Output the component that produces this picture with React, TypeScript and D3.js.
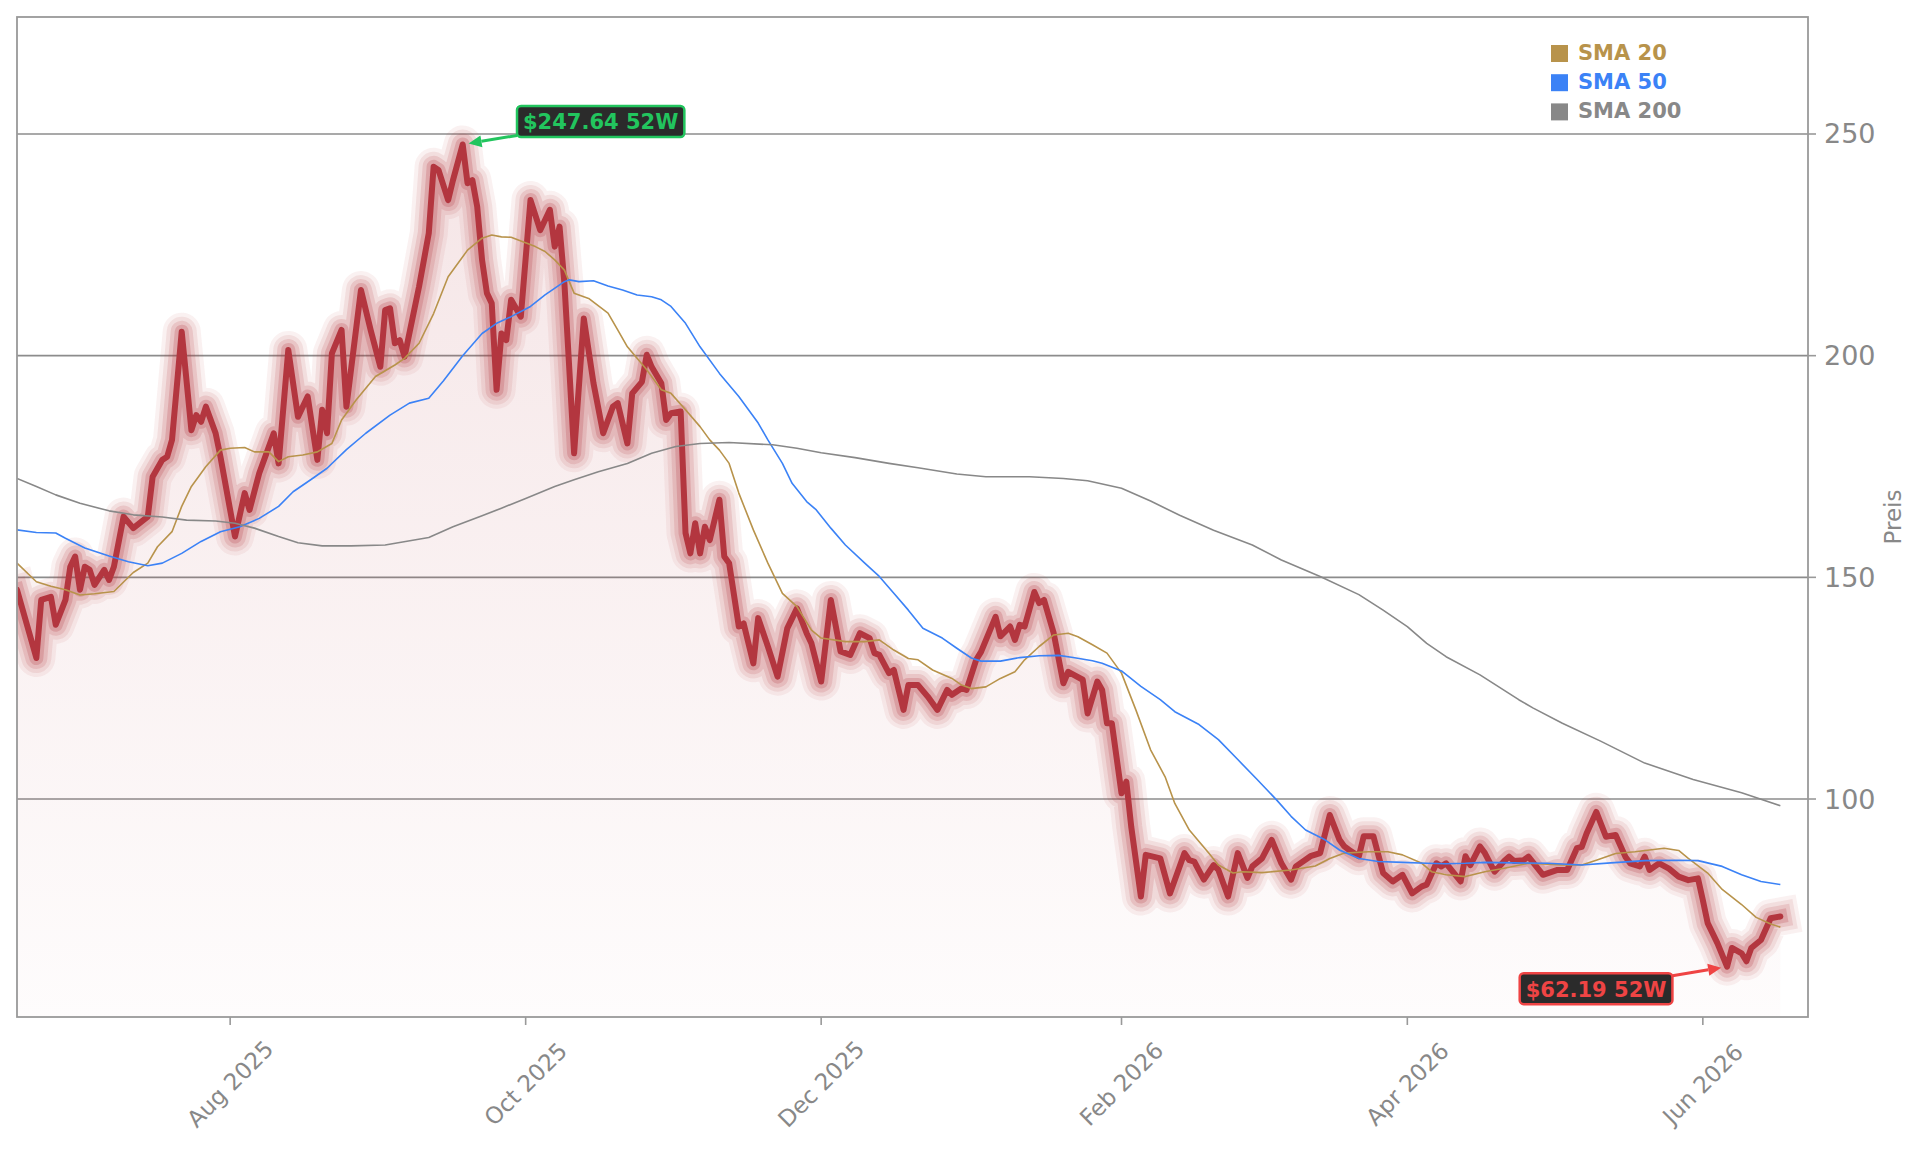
import React from 'react';
import * as d3 from 'd3';

// --- data ---
const priceDates = [
  '2025-06-18','2025-06-22','2025-06-23','2025-06-25','2025-06-26','2025-06-28','2025-06-29','2025-06-30','2025-07-01','2025-07-02',
  '2025-07-03','2025-07-04','2025-07-06','2025-07-07','2025-07-08','2025-07-10','2025-07-12','2025-07-15','2025-07-16','2025-07-18',
  '2025-07-19','2025-07-20','2025-07-22','2025-07-24','2025-07-25','2025-07-26','2025-07-27','2025-07-29','2025-07-30','2025-08-02',
  '2025-08-04','2025-08-05','2025-08-07','2025-08-10','2025-08-11','2025-08-13','2025-08-15','2025-08-17','2025-08-19','2025-08-20',
  '2025-08-21','2025-08-22','2025-08-24','2025-08-25','2025-08-28','2025-08-30','2025-09-01','2025-09-02','2025-09-03','2025-09-04',
  '2025-09-05','2025-09-06','2025-09-09','2025-09-11','2025-09-12','2025-09-13','2025-09-15','2025-09-16','2025-09-18','2025-09-19',
  '2025-09-20','2025-09-21','2025-09-22','2025-09-23','2025-09-24','2025-09-25','2025-09-26','2025-09-27','2025-09-28','2025-09-30',
  '2025-10-02','2025-10-04','2025-10-06','2025-10-07','2025-10-08','2025-10-09','2025-10-11','2025-10-13','2025-10-15','2025-10-17',
  '2025-10-19','2025-10-20','2025-10-22','2025-10-23','2025-10-25','2025-10-26','2025-10-27','2025-10-29','2025-10-30','2025-10-31',
  '2025-11-02','2025-11-03','2025-11-04','2025-11-05','2025-11-06','2025-11-07','2025-11-08','2025-11-10','2025-11-11','2025-11-12',
  '2025-11-14','2025-11-15','2025-11-17','2025-11-18','2025-11-20','2025-11-22','2025-11-24','2025-11-26','2025-11-28','2025-11-29',
  '2025-12-01','2025-12-03','2025-12-05','2025-12-07','2025-12-09','2025-12-11','2025-12-12','2025-12-13','2025-12-15','2025-12-16',
  '2025-12-18','2025-12-19','2025-12-21','2025-12-23','2025-12-25','2025-12-27','2025-12-28','2025-12-30','2025-12-31','2026-01-02',
  '2026-01-03','2026-01-06','2026-01-07','2026-01-09','2026-01-10','2026-01-11','2026-01-12','2026-01-14','2026-01-15','2026-01-16',
  '2026-01-18','2026-01-20','2026-01-21','2026-01-24','2026-01-25','2026-01-27','2026-01-28','2026-01-29','2026-01-30','2026-02-01',
  '2026-02-02','2026-02-03','2026-02-05','2026-02-06','2026-02-09','2026-02-11','2026-02-14','2026-02-15','2026-02-16','2026-02-18',
  '2026-02-20','2026-02-21','2026-02-23','2026-02-25','2026-02-27','2026-02-28','2026-03-02','2026-03-04','2026-03-06','2026-03-08',
  '2026-03-09','2026-03-12','2026-03-14','2026-03-16','2026-03-18','2026-03-19','2026-03-20','2026-03-22','2026-03-23','2026-03-25',
  '2026-03-27','2026-03-29','2026-03-31','2026-04-02','2026-04-04','2026-04-05','2026-04-07','2026-04-08','2026-04-09','2026-04-12',
  '2026-04-13','2026-04-14','2026-04-16','2026-04-17','2026-04-19','2026-04-21','2026-04-22','2026-04-23','2026-04-25','2026-04-26',
  '2026-04-29','2026-05-02','2026-05-04','2026-05-06','2026-05-07','2026-05-08','2026-05-10','2026-05-12','2026-05-14','2026-05-16',
  '2026-05-17','2026-05-19','2026-05-20','2026-05-21','2026-05-23','2026-05-25','2026-05-27','2026-05-29','2026-05-31','2026-06-01',
  '2026-06-02','2026-06-04','2026-06-06','2026-06-07','2026-06-09','2026-06-10','2026-06-11','2026-06-13','2026-06-15','2026-06-17',
];
const priceValues = [
  147.2,131.8,144.9,145.6,139.3,144.9,152.4,154.7,147.2,152.4,
  151.7,148.3,151.7,149.4,152.4,163.7,161.1,163.7,172.7,176.5,
  177.2,181,205.4,183.2,186.6,185.1,188.5,182.5,177.2,159.2,
  169,165.2,173.5,182.5,175.7,201.3,186.2,190.8,176.5,187.8,
  182.5,200.5,205.8,188.5,214.8,205.8,197.5,210.3,210.7,202.8,
  203.5,199.8,215.6,227.6,242.6,241.9,235.1,239.6,247.64,238.9,
  239.6,233.6,221.6,214.1,211.8,192.3,205,203.5,212.6,208.8,
  235.1,228.3,232.9,224.6,229.1,216.3,178,208.4,193.8,182.5,
  188.5,189.3,180.2,191.5,194.1,200.2,197.5,193.8,185.5,187,
  187.4,160,155.4,162.2,155.4,161.4,158.4,167.5,154.7,153.2,
  138.9,139.6,130.6,140.8,134.4,127.6,138.5,143,137.4,135.1,
  126.5,144.9,133.3,132.5,137.4,136.3,132.9,132.5,128.4,129.1,
  120.1,125.7,125.7,123.1,120.1,124.6,123.5,125,124.6,131.4,
  133.2,141.1,136.7,138.9,135.9,139.3,138.9,146.7,144.2,144.9,
  137.4,126.1,128.7,126.9,119.3,126.5,124.6,117.1,117.1,101.3,
  103.9,93.8,78,87.4,86.6,78.7,87.8,86.2,85.9,81.8,
  85.1,84,78,87.8,82.2,84.8,86.6,90.8,85.5,81.8,
  84.8,87.1,87.8,96.4,90.8,89.3,88.5,87.1,91.6,91.6,
  83.3,81.4,82.9,78.7,80.3,80.7,85.5,84.8,85.5,81.4,
  87.1,85.1,89.3,87.8,83.6,86,87,86,86.2,87,
  82.9,84,84,88.9,89.2,92.2,97.1,91.5,91.9,87,
  85.5,84.8,87,84,85.5,84.3,82.5,81.7,82.1,77.2,
  72,67.5,62.19,66.4,65.2,63.4,66.4,68.2,73.1,73.5,
];

const sma20Dates = [
  '2025-06-18','2025-06-22','2025-06-25','2025-06-28','2025-07-01','2025-07-04','2025-07-08','2025-07-12','2025-07-15','2025-07-17',
  '2025-07-20','2025-07-22','2025-07-24','2025-07-27','2025-07-30','2025-08-01','2025-08-04','2025-08-06','2025-08-09','2025-08-11',
  '2025-08-13','2025-08-16','2025-08-19','2025-08-22','2025-08-24','2025-08-27','2025-08-31','2025-09-04','2025-09-06','2025-09-09',
  '2025-09-12','2025-09-15','2025-09-19','2025-09-22','2025-09-24','2025-09-26','2025-09-28','2025-10-03','2025-10-05','2025-10-07',
  '2025-10-09','2025-10-11','2025-10-14','2025-10-18','2025-10-20','2025-10-22','2025-10-26','2025-10-29','2025-10-31','2025-11-03',
  '2025-11-06','2025-11-08','2025-11-10','2025-11-12','2025-11-14','2025-11-17','2025-11-20','2025-11-23','2025-11-26','2025-11-29',
  '2025-12-01','2025-12-06','2025-12-10','2025-12-13','2025-12-16','2025-12-19','2025-12-21','2025-12-24','2025-12-28','2025-12-30',
  '2026-01-01','2026-01-04','2026-01-07','2026-01-10','2026-01-12','2026-01-15','2026-01-18','2026-01-21','2026-01-23','2026-01-26',
  '2026-01-29','2026-02-01','2026-02-04','2026-02-07','2026-02-10','2026-02-12','2026-02-15','2026-02-19','2026-02-21','2026-02-24',
  '2026-02-26','2026-03-02','2026-03-08','2026-03-13','2026-03-16','2026-03-19','2026-03-24','2026-03-28','2026-03-31','2026-04-04',
  '2026-04-06','2026-04-09','2026-04-13','2026-04-17','2026-04-21','2026-04-26','2026-05-03','2026-05-07','2026-05-10','2026-05-14',
  '2026-05-18','2026-05-24','2026-05-27','2026-05-29','2026-06-02','2026-06-05','2026-06-09','2026-06-12','2026-06-15','2026-06-17',
];
const sma20Values = [
  153.2,149,148,147.2,146,146.3,146.8,151.1,153.2,156.9,
  160.3,166,170.5,175,178.7,179.1,179.3,178.3,178.3,176.1,
  177.2,177.6,178.3,180.2,185.5,190,195.3,197.9,199.4,202.8,
  209.5,217.8,223.8,226.5,227.2,226.8,226.7,224.6,223.5,221.6,
  219.3,214.1,212.9,209.6,205.8,202,196.8,192.3,191.5,187.8,
  184,181,178.7,175.7,169,160.7,153.2,146.4,143.4,138.1,
  136.3,135.5,135.5,135.9,133.6,131.7,131.4,129.1,127.2,125.7,
  124.9,125.3,127.2,128.7,131.4,134.4,137,137.4,136.6,134.8,
  132.9,128.4,120,111.1,105,99,93,87.8,85.1,83.3,
  83.6,83.4,84,84.9,86.6,87.8,88.1,88.1,87.4,85.5,
  83.6,82.9,82.5,83.6,84.4,85.5,85.1,85.1,86.2,87.7,
  88.1,88.9,88.4,86.6,83.3,79.6,76.2,73.3,71.8,71.1,
];

const sma50Dates = [
  '2025-06-18','2025-06-22','2025-06-26','2025-06-28','2025-07-02','2025-07-07','2025-07-11','2025-07-15','2025-07-18','2025-07-22',
  '2025-07-26','2025-07-30','2025-08-03','2025-08-07','2025-08-11','2025-08-14','2025-08-18','2025-08-21','2025-08-25','2025-08-29',
  '2025-09-03','2025-09-07','2025-09-11','2025-09-14','2025-09-18','2025-09-22','2025-09-25','2025-09-28','2025-10-02','2025-10-05',
  '2025-10-09','2025-10-10','2025-10-12','2025-10-15','2025-10-18','2025-10-21','2025-10-24','2025-10-27','2025-10-29','2025-10-31',
  '2025-11-03','2025-11-06','2025-11-10','2025-11-14','2025-11-18','2025-11-20','2025-11-23','2025-11-25','2025-11-28','2025-11-30',
  '2025-12-03','2025-12-06','2025-12-10','2025-12-13','2025-12-16','2025-12-19','2025-12-22','2025-12-26','2025-12-29','2026-01-01',
  '2026-01-03','2026-01-07','2026-01-11','2026-01-15','2026-01-19','2026-01-22','2026-01-26','2026-01-28','2026-02-01','2026-02-05',
  '2026-02-09','2026-02-12','2026-02-17','2026-02-21','2026-02-25','2026-03-01','2026-03-05','2026-03-08','2026-03-11','2026-03-15',
  '2026-03-18','2026-03-22','2026-03-26','2026-03-31','2026-04-05','2026-04-09','2026-04-13','2026-04-17','2026-04-23','2026-04-30',
  '2026-05-07','2026-05-13','2026-05-20','2026-05-27','2026-05-31','2026-06-05','2026-06-09','2026-06-13','2026-06-17',
];
const sma50Values = [
  160.7,160.1,160,158.8,156.6,154.8,153.5,152.6,153.2,155.4,
  158.1,160.3,161.4,163.3,166,169.3,172.3,174.6,178.8,182.5,
  186.6,189.3,190.4,194.3,200,205,207.3,208.8,211.1,213.7,
  216.7,217.1,216.7,216.9,215.7,214.8,213.7,213.3,212.6,211.1,
  207.3,202,196,190.8,184.8,181,175.7,171.2,167.1,165.2,
  161.1,157.3,153.2,150.2,146.4,142.6,138.5,136.3,134,131.8,
  131.1,131.1,131.9,132.3,132.4,131.9,131.2,130.6,128.9,125.4,
  122.4,119.7,116.8,113.4,108.9,104.4,99.8,96.1,93,90.8,
  88.5,86.6,85.9,85.7,85.5,85.4,85.5,85.7,85.6,85.5,
  85.1,85.6,86.1,86.2,86.1,84.8,82.9,81.4,80.7,
];

const sma200Dates = [
  '2025-06-18','2025-06-22','2025-06-26','2025-07-01','2025-07-07','2025-07-12','2025-07-18','2025-07-23','2025-07-29','2025-08-02',
  '2025-08-06','2025-08-11','2025-08-15','2025-08-20','2025-08-26','2025-09-02','2025-09-11','2025-09-16','2025-09-22','2025-09-26',
  '2025-10-01','2025-10-07','2025-10-11','2025-10-16','2025-10-22','2025-10-27','2025-11-01','2025-11-06','2025-11-12','2025-11-21',
  '2025-11-26','2025-12-01','2025-12-08','2025-12-15','2025-12-21','2025-12-29','2026-01-04','2026-01-13','2026-01-20','2026-01-25',
  '2026-02-01','2026-02-07','2026-02-13','2026-02-20','2026-02-28','2026-03-06','2026-03-14','2026-03-22','2026-03-27','2026-04-01',
  '2026-04-05','2026-04-09','2026-04-16','2026-04-24','2026-04-27','2026-05-03','2026-05-11','2026-05-20','2026-05-30','2026-06-09',
  '2026-06-17',
];
const sma200Values = [
  172.3,170.5,168.6,166.7,165,164.1,163.6,162.9,162.7,162.2,
  161.1,159.2,157.8,157.1,157.1,157.3,159,161.4,163.9,165.6,
  167.8,170.5,172,173.8,175.7,178,179.5,180.2,180.4,179.9,
  179.1,178.1,177,175.7,174.7,173.3,172.7,172.7,172.3,171.8,
  170.1,167.2,164,160.6,157.3,153.9,150.2,146.1,142.6,138.9,
  135.1,132.1,128,122.4,120.5,117.1,113,108.1,104.4,101.4,
  98.5,
];

const xStart = '2025-06-18';
const xEnd = new Date(2026, 5, 22, 17);
const xTickDates = ['2025-08-01', '2025-10-01', '2025-12-01', '2026-02-01', '2026-04-01', '2026-06-01'];
const yDomain = [50.83, 276.39];
const yTickValues = [100, 150, 200, 250];
const legendLabels = ['SMA 20', 'SMA 50', 'SMA 200'];
const legendColors = ['#b8934b', '#3b82f6', '#888888'];
const yLabel = 'Preis';

const W = 1921;
const H = 1151;
const M = { left: 17, right: 1808, top: 17, bottom: 1017 };
const PRICE = '#b3363f';
const AXIS = '#999999';
const GRID = '#8c8c8c';
const TEXT = '#888888';

const parse = d3.timeParse('%Y-%m-%d');

function zip(dates: string[], values: number[]) {
  const n = Math.min(dates.length, values.length);
  return d3.range(n).map((i) => ({ date: parse(dates[i]) as Date, value: values[i] }));
}

let ctx: CanvasRenderingContext2D | null = null;
function textWidth(s: string, font: string) {
  if (!ctx) ctx = document.createElement('canvas').getContext('2d');
  if (!ctx) return s.length * 14;
  ctx.font = font;
  return ctx.measureText(s).width;
}

function Callout({ px, py, dx, dy, label, color }: any) {
  const font = 'bold 21px "DejaVu Sans"';
  const bw = textWidth(label, font) + 12;
  const bh = 31;
  const cx = px + dx;
  const cy = py + dy;
  const vx = px - cx;
  const vy = py - cy;
  const len = Math.hypot(vx, vy);
  const ux = vx / len;
  const uy = vy / len;
  const t = Math.min(Math.abs(bw / 2 / vx), Math.abs(bh / 2 / vy));
  const sx = cx + vx * t;
  const sy = cy + vy * t;
  const ex = px - ux * 6;
  const ey = py - uy * 6;
  const hl = 13;
  const hw = 6;
  const bxp = ex - ux * hl;
  const byp = ey - uy * hl;
  const head = `${ex},${ey} ${bxp - uy * hw},${byp + ux * hw} ${bxp + uy * hw},${byp - ux * hw}`;
  return (
    <g>
      <line x1={sx} y1={sy} x2={bxp} y2={byp} stroke={color} strokeWidth={3} />
      <polygon points={head} fill={color} />
      <rect x={cx - bw / 2} y={cy - bh / 2} width={bw} height={bh} rx={4} fill="#2b2b2b" stroke={color} strokeWidth={2.5} />
      <text x={cx} y={cy + 1} textAnchor="middle" dominantBaseline="central" fill={color}
        style={{ font }}>{label}</text>
    </g>
  );
}

export default function App() {
  const price = zip(priceDates, priceValues);
  const sma20 = zip(sma20Dates, sma20Values);
  const sma50 = zip(sma50Dates, sma50Values);
  const sma200 = zip(sma200Dates, sma200Values);

  const x = d3.scaleTime().domain([parse(xStart) as Date, xEnd]).range([M.left, M.right]);
  const y = d3.scaleLinear().domain(yDomain).range([M.bottom, M.top]);

  const line = d3.line<any>().x((d) => x(d.date)).y((d) => y(d.value));
  const area = d3.area<any>().x((d) => x(d.date)).y0(M.bottom).y1((d) => y(d.value));

  const pricePath = line(price) || '';
  const hi = price[d3.maxIndex(price, (d) => d.value)];
  const lo = price[d3.minIndex(price, (d) => d.value)];

  // halo rings around the price line
  const glow = [
    { w: 38, o: 0.07 },
    { w: 30, o: 0.1 },
    { w: 22, o: 0.15 },
    { w: 14, o: 0.22 },
  ];

  const smaSeries = [sma20, sma50, sma200];
  const tickFont = '23px "DejaVu Sans"';
  const yTickFont = '27px "DejaVu Sans"';

  return (
    <svg width={W} height={H} style={{ position: 'absolute', left: 0, top: 0, display: 'block', background: '#fff' }}
      xmlns="http://www.w3.org/2000/svg">
      <defs>
        <clipPath id="plot">
          <rect x={M.left} y={M.top} width={M.right - M.left} height={M.bottom - M.top} />
        </clipPath>
        <linearGradient id="fillGrad" gradientUnits="userSpaceOnUse" x1={0} y1={y(250)} x2={0} y2={M.bottom}>
          <stop offset="0" stopColor={PRICE} stopOpacity={0.13} />
          <stop offset="1" stopColor={PRICE} stopOpacity={0.015} />
        </linearGradient>
      </defs>
      <rect width={W} height={H} fill="#fff" />

      {/* grid */}
      {yTickValues.map((v) => (
        <line key={v} x1={M.left} x2={M.right} y1={y(v)} y2={y(v)} stroke={GRID} strokeWidth={1.6} />
      ))}

      <g clipPath="url(#plot)">
        <path d={area(price) || ''} fill="url(#fillGrad)" />
        {glow.map((g, i) => (
          <path key={i} d={pricePath} fill="none" stroke={PRICE} strokeOpacity={g.o} strokeWidth={g.w}
            strokeLinejoin="round" strokeLinecap="square" />
        ))}
        <path d={pricePath} fill="none" stroke={PRICE} strokeWidth={6} strokeLinejoin="round" strokeLinecap="round" />
        {smaSeries.map((s, i) => (
          <path key={i} d={line(s) || ''} fill="none" stroke={legendColors[i]} strokeWidth={1.6} strokeLinejoin="round" />
        ))}
      </g>

      {/* frame */}
      <rect x={M.left} y={M.top} width={M.right - M.left} height={M.bottom - M.top} fill="none" stroke={AXIS} strokeWidth={1.8} />

      {/* y axis (right) */}
      {yTickValues.map((v) => (
        <g key={v}>
          <line x1={M.right} x2={M.right + 8} y1={y(v)} y2={y(v)} stroke={AXIS} strokeWidth={1.6} />
          <text x={M.right + 16} y={y(v)} dominantBaseline="central" fill={TEXT} style={{ font: yTickFont }}>{v}</text>
        </g>
      ))}
      <text transform={`translate(1893,${(M.top + M.bottom) / 2}) rotate(-90)`} textAnchor="middle"
        dominantBaseline="central" fill={TEXT} style={{ font: tickFont }}>{yLabel}</text>

      {/* x axis */}
      {xTickDates.map((s) => {
        const d = parse(s) as Date;
        const xx = x(d);
        return (
          <g key={s}>
            <line x1={xx} x2={xx} y1={M.bottom} y2={M.bottom + 8} stroke={AXIS} strokeWidth={1.6} />
            <text transform={`translate(${xx},${M.bottom + 67}) rotate(-45)`} textAnchor="middle"
              dominantBaseline="central" fill={TEXT} style={{ font: tickFont }}>{d3.timeFormat('%b %Y')(d)}</text>
          </g>
        );
      })}

      {/* legend */}
      {legendLabels.map((l, i) => (
        <g key={l}>
          <rect x={1551} y={45 + i * 29.2} width={17} height={17} fill={legendColors[i]} />
          <text x={1578} y={59.5 + i * 29.2} fill={legendColors[i]} style={{ font: 'bold 21px "DejaVu Sans"' }}>{l}</text>
        </g>
      ))}

      <Callout px={x(hi.date)} py={y(hi.value)} dx={138} dy={-23} color="#22c55e"
        label={`$${hi.value.toFixed(2)} 52W`} />
      <Callout px={x(lo.date)} py={y(lo.value)} dx={-131} dy={22} color="#ef4444"
        label={`$${lo.value.toFixed(2)} 52W`} />
    </svg>
  );
}
